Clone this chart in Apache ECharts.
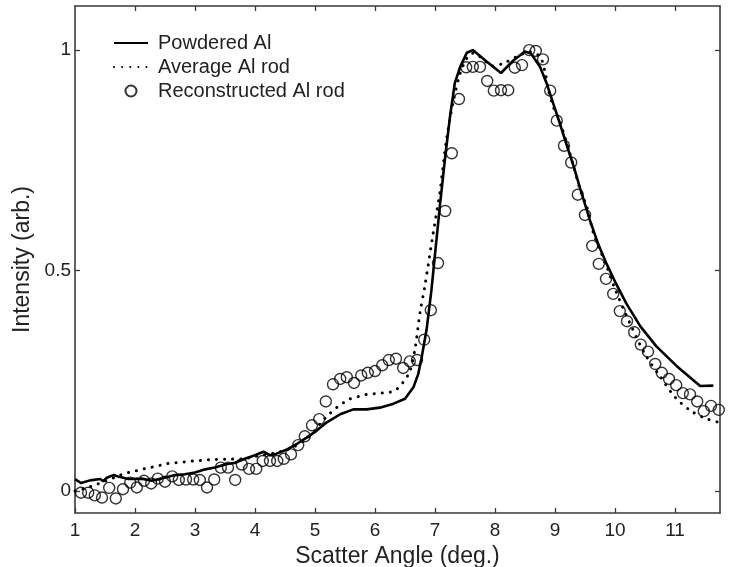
<!DOCTYPE html>
<html><head><meta charset="utf-8">
<script src="https://cdn.jsdelivr.net/npm/echarts@6/dist/echarts.min.js"></script>
<style>html,body{margin:0;padding:0;background:#fff}#c{width:729px;height:567px}</style>
</head><body><div id="c"></div>
<script>
// ---- data ----
var xTicks = [1,2,3,4,5,6,7,8,9,10,11];
var yTicks = [0,0.5,1];
var yTickLabels = ['0','0.5','1'];
var seriesNames = ['Powdered Al','Average Al rod','Reconstructed Al rod'];

var powderX = [1.0,1.1,1.25,1.42,1.47,1.53,1.64,1.72,1.89,2.11,2.28,2.44,2.67,2.83,3.0,3.17,3.33,3.5,3.67,3.83,4.0,4.14,4.25,4.33,4.53,4.69,4.86,5.03,5.19,5.42,5.64,5.86,6.08,6.31,6.5,6.64,6.72,6.78,6.86,6.94,7.08,7.17,7.25,7.33,7.42,7.53,7.63,7.86,8.1,8.31,8.5,8.6,8.75,8.86,8.97,9.08,9.19,9.31,9.42,9.58,9.72,9.86,10.0,10.19,10.42,10.69,11.03,11.42,11.64];
var powderY = [0.027,0.018,0.024,0.027,0.022,0.030,0.036,0.033,0.027,0.028,0.023,0.028,0.036,0.038,0.042,0.049,0.053,0.060,0.064,0.073,0.081,0.089,0.081,0.083,0.094,0.106,0.121,0.137,0.155,0.174,0.185,0.185,0.189,0.198,0.209,0.235,0.265,0.305,0.366,0.455,0.645,0.758,0.849,0.925,0.962,0.994,1.0,0.974,0.948,0.977,0.997,0.992,0.962,0.925,0.879,0.834,0.787,0.737,0.686,0.615,0.56,0.515,0.475,0.425,0.374,0.328,0.283,0.238,0.239];

var avgX = [1.0,1.15,1.3,1.5,1.7,1.83,1.97,2.11,2.25,2.39,2.53,2.67,2.83,2.97,3.11,3.25,3.5,3.8,3.97,4.15,4.4,4.63,4.92,5.1,5.25,5.36,5.57,5.72,5.86,6.02,6.17,6.31,6.42,6.5,6.58,6.67,6.75,6.83,6.97,7.08,7.19,7.31,7.42,7.53,7.63,7.8,7.94,8.14,8.36,8.58,8.75,8.83,8.89,8.97,9.08,9.19,9.31,9.42,9.53,9.64,9.86,10.0,10.25,10.5,10.75,11.0,11.25,11.5,11.75];
var avgY = [0.0,0.005,0.012,0.022,0.033,0.040,0.044,0.049,0.053,0.057,0.062,0.064,0.066,0.068,0.069,0.071,0.072,0.073,0.077,0.082,0.088,0.099,0.125,0.155,0.176,0.189,0.208,0.214,0.219,0.221,0.223,0.226,0.238,0.253,0.270,0.325,0.404,0.464,0.585,0.676,0.796,0.887,0.947,0.981,0.993,0.980,0.964,0.970,0.985,0.996,0.985,0.953,0.909,0.872,0.838,0.792,0.736,0.683,0.645,0.585,0.510,0.458,0.380,0.310,0.260,0.213,0.183,0.165,0.155];

var reconX = [1.10,1.22,1.33,1.45,1.57,1.68,1.80,1.92,2.03,2.15,2.27,2.38,2.50,2.62,2.73,2.85,2.97,3.08,3.20,3.32,3.43,3.55,3.67,3.78,3.90,4.02,4.13,4.25,4.37,4.48,4.60,4.72,4.83,4.95,5.07,5.18,5.30,5.42,5.53,5.65,5.77,5.88,6.00,6.12,6.23,6.35,6.47,6.58,6.70,6.82,6.93,7.05,7.17,7.28,7.40,7.52,7.63,7.75,7.87,7.98,8.10,8.22,8.33,8.45,8.57,8.68,8.80,8.92,9.03,9.15,9.27,9.38,9.50,9.62,9.73,9.85,9.97,10.08,10.20,10.32,10.43,10.55,10.67,10.78,10.90,11.02,11.13,11.25,11.37,11.48,11.60,11.73];
var reconY = [-0.004,-0.004,-0.010,-0.015,0.007,-0.017,0.004,0.019,0.008,0.023,0.017,0.028,0.021,0.033,0.025,0.026,0.026,0.025,0.008,0.026,0.053,0.053,0.025,0.060,0.050,0.050,0.068,0.068,0.068,0.073,0.083,0.104,0.124,0.149,0.163,0.203,0.242,0.254,0.258,0.245,0.262,0.268,0.272,0.285,0.297,0.300,0.279,0.294,0.297,0.343,0.410,0.517,0.635,0.766,0.889,0.961,0.962,0.962,0.930,0.908,0.909,0.909,0.960,0.966,1.000,0.998,0.979,0.908,0.840,0.783,0.745,0.672,0.626,0.556,0.515,0.481,0.447,0.408,0.385,0.360,0.332,0.316,0.288,0.268,0.254,0.240,0.222,0.219,0.203,0.181,0.193,0.184];

function zip(a,b){var r=[];for(var i=0;i<a.length;i++)r.push([a[i],b[i]]);return r;}

var FONT = 'Liberation Sans, Arial, Helvetica, sans-serif';
var AX = '#3a3a3a';
var chart = echarts.init(document.getElementById('c'), null, {renderer:'canvas'});

function xAx(pos, labels){
  return {type:'value', position:pos, min:1, max:11.75,
    axisLine:{show:true, onZero:false, lineStyle:{color:AX, width:1.6}},
    axisTick:{show:true, inside:true, length:5, customValues: pos==='top'?xTicks.slice(1):xTicks, lineStyle:{color:AX,width:1.3}},
    axisLabel:{show:labels, customValues:xTicks, margin:8, color:'#222', fontSize:19, fontFamily:FONT},
    splitLine:{show:false},
    name: labels ? 'Scatter Angle (deg.)' : '', nameLocation:'middle', nameGap:23,
    nameTextStyle:{color:'#222', fontSize:23, fontFamily:FONT}};
}
function yAx(pos, labels){
  return {type:'value', position:pos, min:-0.05, max:1.1,
    axisLine:{show:true, onZero:false, lineStyle:{color:AX, width:1.6}},
    axisTick:{show:true, inside:true, length:5, customValues:yTicks, lineStyle:{color:AX,width:1.3}},
    axisLabel:{show:labels, customValues:yTicks, margin:4, color:'#222', fontSize:19, fontFamily:FONT,
      formatter:function(v){var i=yTicks.indexOf(v);return i>=0?yTickLabels[i]:'';}},
    splitLine:{show:false},
    name: labels ? 'Intensity (arb.)' : '', nameLocation:'middle', nameGap:31, nameRotate:90,
    nameTextStyle:{color:'#222', fontSize:23, fontFamily:FONT}};
}

var noSym = {color:'rgba(0,0,0,0)', borderWidth:0, opacity:0};
chart.setOption({
  backgroundColor:'#fff',
  animation:false,
  grid:{left:75, right:9, top:6, bottom:54, containLabel:false, outerBoundsMode:'none'},
  xAxis:[xAx('bottom', true), xAx('top', false)],
  yAxis:[yAx('left', true), yAx('right', false)],
  legend:{orient:'vertical', left:113, top:33, padding:0, itemWidth:34, itemHeight:11, itemGap:4,
    textStyle:{color:'#222', fontSize:20, fontFamily:FONT, lineHeight:20, padding:[0,0,0,5]},
    data:[{name:seriesNames[0], itemStyle:noSym},{name:seriesNames[1], itemStyle:noSym},{name:seriesNames[2]}]},
  series:[
    {name:seriesNames[0], type:'line', data:zip(powderX,powderY), symbol:'none', smooth:false,
      lineStyle:{color:'#000', width:2.6}, itemStyle:{color:'#000'}, z:3},
    {name:seriesNames[1], type:'line', data:zip(avgX,avgY), symbol:'none', smooth:0.3,
      lineStyle:{color:'#000', width:3, type:[0.1,8], cap:'round'}, itemStyle:{color:'#000'}, z:2},
    {name:seriesNames[2], type:'scatter', data:zip(reconX,reconY), symbol:'circle', symbolSize:11, clip:false,
      itemStyle:{color:'rgba(255,255,255,0)', borderColor:'#000', borderWidth:1.4}, z:4}
  ]
});
</script></body></html>
